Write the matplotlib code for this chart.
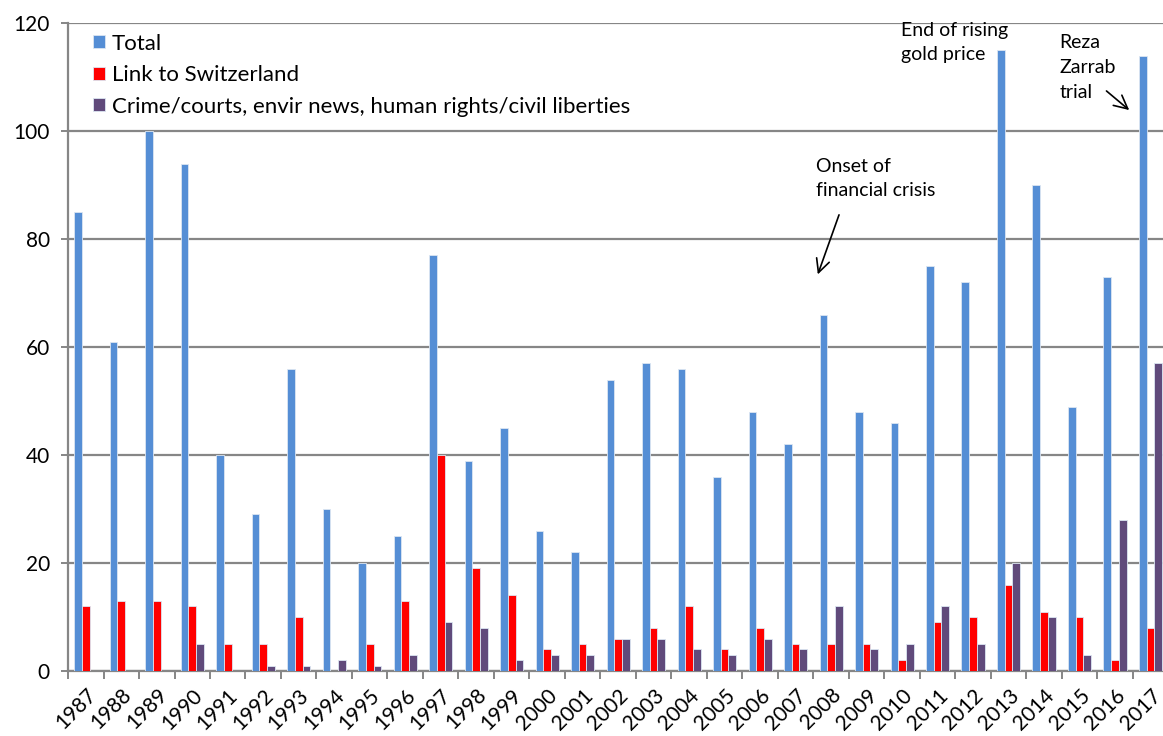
import numpy as np
import matplotlib
matplotlib.use("Agg")
import matplotlib.pyplot as plt

plt.rcParams['font.family'] = ['Lato', 'DejaVu Sans']

years = list(range(1987, 2018))
total = [85, 61, 100, 94, 40, 29, 56, 30, 20, 25, 77, 39, 45, 26, 22, 54,
         57, 56, 36, 48, 42, 66, 48, 46, 75, 72, 115, 90, 49, 73, 114]
swiss = [12, 13, 13, 12, 5, 5, 10, 0, 5, 13, 40, 19, 14, 4, 5, 6,
         8, 12, 4, 8, 5, 5, 5, 2, 9, 10, 16, 11, 10, 2, 8]
crime = [0, 0, 0, 5, 0, 1, 1, 2, 1, 3, 9, 8, 2, 3, 3, 6,
         6, 4, 3, 6, 4, 12, 4, 5, 12, 5, 20, 10, 3, 28, 57]

series = [
    ("Total", total, "#558ed5"),
    ("Link to Switzerland", swiss, "#ff0000"),
    ("Crime/courts, envir news, human rights/civil liberties", crime, "#604a7b"),
]

fig = plt.figure(figsize=(11.63, 7.36), dpi=100)
ax = fig.add_axes([0.0585, 0.0883, 0.946, 0.880])

x = np.arange(len(years))
w = 0.217
for k, (name, vals, col) in enumerate(series):
    ax.bar(x + (k - 1) * w, vals, width=w, color=col, label=name,
           edgecolor="#dce6f2", linewidth=0.6, zorder=3)

grid_col = "#868686"
ax.set_ylim(0, 120)
ax.set_xlim(-0.5, len(years) - 0.5)
ax.set_yticks(range(0, 121, 20))
ax.yaxis.grid(True, color=grid_col, linewidth=1.6, zorder=1)
ax.tick_params(axis='y', length=5, width=1.4, color=grid_col,
               labelsize=15, pad=8)

# category ticks sit between groups, labels at the group centres
ax.set_xticks(np.arange(len(years) + 1) - 0.5, minor=False)
ax.set_xticklabels([])
ax.set_xticks(x, minor=True)
ax.set_xticklabels([str(y) for y in years], minor=True, rotation=45,
                   ha='right', va='top', rotation_mode='anchor', fontsize=15)
ax.tick_params(axis='x', which='major', length=6, width=1.4, color=grid_col)
ax.tick_params(axis='x', which='minor', length=0, pad=10)

for side in ["top", "right"]:
    ax.spines[side].set_visible(False)
for side in ["left", "bottom"]:
    ax.spines[side].set_color(grid_col)
    ax.spines[side].set_linewidth(1.6)

ax.legend(loc='upper left', bbox_to_anchor=(0.0145, 0.998), frameon=False,
          fontsize=16, handlelength=0.55, handleheight=0.55,
          handletextpad=0.3, labelspacing=0.52, borderaxespad=0.0)

ax.annotate("Onset of\nfinancial crisis", xy=(20.6, 73), xytext=(20.57, 95),
            fontsize=14, va='top', ha='left', linespacing=1.5)
ax.annotate("", xy=(20.6, 73), xytext=(21.25, 85),
            arrowprops=dict(arrowstyle='->', color='black', lw=1.2,
                            mutation_scale=24))
ax.text(22.96, 120.3, "End of rising\ngold price", fontsize=14,
        va='top', ha='left', linespacing=1.5)
ax.text(27.44, 118.0, "Reza\nZarrab\ntrial", fontsize=14, va='top', ha='left',
        linespacing=1.55)
ax.annotate("", xy=(29.46, 103.6), xytext=(28.7, 107.8),
            arrowprops=dict(arrowstyle='->', color='black', lw=1.2,
                            mutation_scale=24))

fig.savefig("out.png", dpi=100)
